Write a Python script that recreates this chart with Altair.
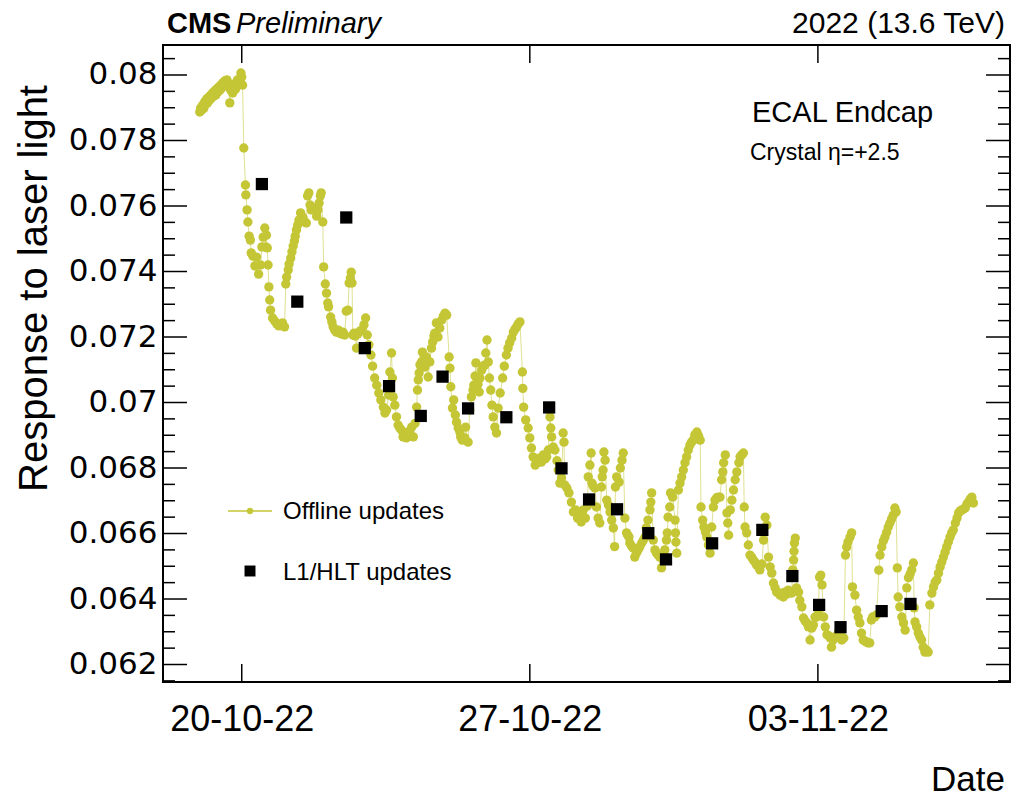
import altair as alt
import pandas as pd

# Laser-light response of one ECAL endcap crystal (eta = +2.5), autumn 2022.
# Times are in days relative to 20 Oct 2022, 00:00.
T0 = pd.Timestamp("2022-10-20 00:00")

offline_day = [
    -1.02, -1.00, -0.97, -0.95, -0.92, -0.90, -0.88, -0.85, -0.83, -0.80, -0.78, -0.75,
    -0.73, -0.71, -0.68, -0.66, -0.63, -0.61, -0.58, -0.56, -0.53, -0.51, -0.49, -0.46,
    -0.44, -0.41, -0.39, -0.36, -0.34, -0.32, -0.29, -0.27, -0.24, -0.22, -0.19, -0.17,
    -0.15, -0.12, -0.10, -0.07, -0.05, -0.02, 0.00, 0.02,
    0.05, 0.09, 0.10, 0.13, 0.15, 0.18, 0.21, 0.23, 0.27, 0.32, 0.36, 0.41, 0.46, 0.49,
    0.52, 0.56, 0.58, 0.60, 0.62, 0.64, 0.66, 0.68, 0.70, 0.75, 0.80, 0.85, 0.90, 0.95,
    0.99, 1.04,
    1.07, 1.09, 1.13, 1.15, 1.19, 1.22, 1.25, 1.28, 1.30, 1.33, 1.36, 1.39, 1.43, 1.46,
    1.49, 1.53, 1.57, 1.60, 1.63, 1.66, 1.69, 1.72, 1.77, 1.82, 1.85, 1.88, 1.91, 1.93,
    1.97,
    1.99, 2.03, 2.06, 2.09, 2.11, 2.16, 2.19, 2.22, 2.26, 2.30, 2.35, 2.38, 2.42, 2.46,
    2.50, 2.54, 2.58, 2.61, 2.64, 2.66, 2.68, 2.70, 2.73, 2.76, 2.79, 2.82, 2.87, 2.92,
    2.97, 3.01,
    3.05, 3.09, 3.14, 3.18, 3.23, 3.28, 3.33, 3.38, 3.44, 3.48, 3.52, 3.57, 3.60, 3.64,
    3.66, 3.68, 3.72, 3.76, 3.80, 3.84, 3.88, 3.92, 3.96, 4.00, 4.04, 4.08, 4.13, 4.17,
    4.21, 4.25, 4.27, 4.29, 4.31, 4.33, 4.37, 4.39, 4.43, 4.45, 4.49, 4.53, 4.57, 4.61,
    4.64, 4.67, 4.69, 4.73, 4.77, 4.81, 4.86, 4.90, 4.94, 4.98,
    5.04, 5.06, 5.08, 5.12, 5.15, 5.19, 5.22, 5.26, 5.30, 5.32, 5.36, 5.42, 5.44, 5.50,
    5.54, 5.58, 5.62, 5.64, 5.67, 5.69, 5.71, 5.74, 5.77, 5.79, 5.83, 5.87, 5.91, 5.93,
    5.96, 5.99, 6.02, 6.05, 6.08, 6.11, 6.15, 6.19, 6.23, 6.28, 6.34, 6.38, 6.43, 6.47,
    6.51, 6.56, 6.60, 6.64, 6.68, 6.72, 6.76,
    6.82, 6.83, 6.85, 6.90, 6.96, 7.00, 7.04, 7.08, 7.13, 7.16, 7.21, 7.25, 7.28, 7.33,
    7.37, 7.41, 7.45, 7.49, 7.51, 7.53, 7.57, 7.61, 7.66, 7.69, 7.73, 7.77, 7.81, 7.83,
    7.85, 7.90, 7.95, 8.01, 8.06, 8.11, 8.16, 8.21, 8.25, 8.30, 8.35, 8.40, 8.42, 8.46,
    8.49, 8.51, 8.54, 8.58, 8.62, 8.66, 8.70, 8.74, 8.76, 8.78, 8.80, 8.83, 8.87, 8.91,
    8.95, 8.99, 9.03, 9.06, 9.08, 9.11, 9.17, 9.20, 9.24, 9.27, 9.31, 9.35, 9.38, 9.41,
    9.43, 9.47, 9.51, 9.55, 9.59, 9.63, 9.67, 9.72, 9.76, 9.80, 9.83, 9.87, 9.92, 9.94,
    9.96, 10.00, 10.04, 10.08, 10.12, 10.16, 10.20, 10.24, 10.28, 10.32, 10.34, 10.36,
    10.40, 10.42, 10.47, 10.53, 10.54, 10.55, 10.57, 10.61, 10.65, 10.69, 10.73, 10.77,
    10.81, 10.85, 10.89, 10.93, 10.97, 11.01, 11.06, 11.10, 11.14, 11.16, 11.20, 11.23,
    11.27, 11.30, 11.34, 11.38, 11.42, 11.46, 11.50, 11.54, 11.58, 11.62, 11.66, 11.69,
    11.71, 11.75, 11.79, 11.81, 11.83, 11.87, 11.91, 11.95, 11.99, 12.03, 12.08, 12.11,
    12.15, 12.19, 12.21, 12.23, 12.27, 12.31, 12.35, 12.39, 12.43, 12.47, 12.51, 12.56,
    12.59, 12.64, 12.68, 12.72, 12.76, 12.80, 12.84, 12.88, 12.92, 12.96, 13.00, 13.05,
    13.08, 13.12, 13.16, 13.20, 13.24, 13.28, 13.32, 13.36, 13.39, 13.41, 13.42, 13.43,
    13.45, 13.48, 13.53, 13.56, 13.61, 13.65, 13.69, 13.73, 13.77, 13.81, 13.85, 13.89,
    13.93, 13.97, 14.01, 14.04, 14.07, 14.10, 14.14, 14.18, 14.22, 14.26, 14.30, 14.33,
    14.37, 14.42, 14.46, 14.50, 14.54, 14.58, 14.63, 14.67, 14.70, 14.73, 14.78, 14.82,
    14.84, 14.90, 14.94, 14.98, 15.02, 15.06, 15.10, 15.14, 15.18, 15.22, 15.26, 15.30,
    15.33, 15.38, 15.43, 15.48, 15.51, 15.55, 15.59, 15.63, 15.67, 15.71, 15.75, 15.79,
    15.83, 15.87, 15.90, 15.93, 15.95, 15.99, 16.04, 16.08, 16.12, 16.16, 16.20, 16.24,
    16.28, 16.32, 16.34, 16.36, 16.40, 16.44, 16.48, 16.52, 16.56, 16.60, 16.64, 16.68,
    16.72, 16.77, 16.81, 16.85, 16.89, 16.93, 16.97, 17.01, 17.05, 17.09, 17.13, 17.17,
    17.21, 17.25, 17.29, 17.34, 17.38, 17.42, 17.46, 17.50, 17.54, 17.58, 17.62, 17.66,
    17.70, 17.74, 17.78,
]

offline_resp = [
    0.07887, 0.07899, 0.07893, 0.07908, 0.07899, 0.07918, 0.07911, 0.07927, 0.07915, 0.07933, 0.07924, 0.07939,
    0.07930, 0.07945, 0.07936, 0.07951, 0.07939, 0.07957, 0.07948, 0.07963, 0.07954, 0.07969, 0.07960, 0.07976,
    0.07966, 0.07982, 0.07969, 0.07985, 0.07976, 0.07966, 0.07915, 0.07954, 0.07960, 0.07945, 0.07966, 0.07973,
    0.07957, 0.07979, 0.07985, 0.07973, 0.07988, 0.08006, 0.07994, 0.07969,
    0.07777, 0.07664, 0.07634, 0.07588, 0.07551, 0.07508, 0.07496, 0.07457, 0.07447, 0.07417, 0.07444, 0.07392, 0.07420, 0.07475,
    0.07505, 0.07533, 0.07475, 0.07511, 0.07472, 0.07420, 0.07353, 0.07313, 0.07282, 0.07258, 0.07249, 0.07240, 0.07234, 0.07237,
    0.07243, 0.07231,
    0.07362, 0.07383, 0.07405, 0.07423, 0.07441, 0.07460, 0.07478, 0.07493, 0.07508, 0.07527, 0.07542, 0.07557, 0.07579, 0.07569,
    0.07563, 0.07551, 0.07548, 0.07631, 0.07640, 0.07603, 0.07588, 0.07594, 0.07588, 0.07569, 0.07588, 0.07609, 0.07631, 0.07640,
    0.07551,
    0.07414, 0.07362, 0.07334, 0.07304, 0.07292, 0.07261, 0.07246, 0.07231, 0.07221, 0.07215, 0.07221, 0.07212, 0.07209, 0.07215,
    0.07206, 0.07279, 0.07282, 0.07365, 0.07380, 0.07398, 0.07365, 0.07206, 0.07212, 0.07203, 0.07166, 0.07209, 0.07218, 0.07221,
    0.07237, 0.07258,
    0.07206, 0.07176, 0.07145, 0.07111, 0.07075, 0.07053, 0.07029, 0.07008, 0.06986, 0.06968, 0.06977, 0.07023, 0.07093, 0.07151,
    0.07075, 0.07017, 0.06992, 0.06956, 0.06931, 0.06922, 0.06916, 0.06895, 0.06907, 0.06892, 0.06910, 0.06907, 0.06925, 0.06895,
    0.06936, 0.06986, 0.07038, 0.07069, 0.07090, 0.07115, 0.07124, 0.07154, 0.07135, 0.07108, 0.07139, 0.07078, 0.07124, 0.07166,
    0.07185, 0.07203, 0.07212, 0.07243, 0.07200, 0.07227, 0.07252, 0.07264, 0.07273, 0.07267,
    0.07139, 0.07105, 0.07048, 0.06983, 0.07008, 0.06962, 0.06940, 0.06922, 0.06910, 0.06895, 0.06885, 0.06892, 0.06925, 0.06879,
    0.06977, 0.07017, 0.07038, 0.07053, 0.07081, 0.07121, 0.07075, 0.07056, 0.07032, 0.07075, 0.07099, 0.07111, 0.07115, 0.07151,
    0.07191, 0.07124, 0.07075, 0.07038, 0.06992, 0.06956, 0.06925, 0.06907, 0.06983, 0.07029, 0.07075, 0.07111, 0.07145, 0.07166,
    0.07182, 0.07197, 0.07215, 0.07224, 0.07231, 0.07240, 0.07246,
    0.07093, 0.07043, 0.06986, 0.06947, 0.06922, 0.06892, 0.06861, 0.06834, 0.06809, 0.06818, 0.06818, 0.06831, 0.06818, 0.06840,
    0.06828, 0.06834, 0.06855, 0.06956, 0.06922, 0.06895, 0.06864, 0.06855, 0.06822, 0.06794, 0.06754, 0.06770, 0.06907, 0.06879,
    0.06748, 0.06739, 0.06724, 0.06696, 0.06666, 0.06672, 0.06647, 0.06656, 0.06635, 0.06672, 0.06647, 0.06684, 0.06773, 0.06809,
    0.06846, 0.06754, 0.06745, 0.06739, 0.06681, 0.06647, 0.06632, 0.06742, 0.06773, 0.06794, 0.06849, 0.06824, 0.06702, 0.06687,
    0.06666, 0.06641, 0.06617, 0.06560, 0.06742, 0.06773, 0.06757, 0.06800, 0.06824, 0.06846, 0.06647, 0.06602, 0.06595, 0.06589,
    0.06571, 0.06562, 0.06556, 0.06528, 0.06540, 0.06550, 0.06559, 0.06571, 0.06580, 0.06589, 0.06617, 0.06641, 0.06672, 0.06696,
    0.06724, 0.06580, 0.06550, 0.06540, 0.06534, 0.06528, 0.06495, 0.06519, 0.06550, 0.06580, 0.06602, 0.06650,
    0.06681, 0.06724, 0.06711, 0.06641, 0.06602, 0.06574, 0.06540, 0.06733, 0.06754, 0.06773, 0.06794, 0.06816,
    0.06834, 0.06855, 0.06870, 0.06879, 0.06885, 0.06901, 0.06910, 0.06898, 0.06885, 0.06681, 0.06641, 0.06620,
    0.06604, 0.06589, 0.06565, 0.06540, 0.06620, 0.06681, 0.06702, 0.06709, 0.06711, 0.06711, 0.06764, 0.06788,
    0.06816, 0.06840, 0.06663, 0.06632, 0.06595, 0.06672, 0.06702, 0.06733, 0.06764, 0.06788, 0.06816, 0.06834,
    0.06840, 0.06846, 0.06681, 0.06620, 0.06602, 0.06565, 0.06534, 0.06528, 0.06519, 0.06513, 0.06504, 0.06498,
    0.06489, 0.06507, 0.06580, 0.06650, 0.06626, 0.06528, 0.06498, 0.06479, 0.06449, 0.06434, 0.06421, 0.06418,
    0.06412, 0.06418, 0.06406, 0.06421, 0.06415, 0.06427, 0.06421, 0.06418, 0.06489, 0.06519, 0.06546, 0.06571,
    0.06586, 0.06434, 0.06421, 0.06396, 0.06376, 0.06342, 0.06333, 0.06327, 0.06315, 0.06275, 0.06311, 0.06321,
    0.06345, 0.06345, 0.06366, 0.06467, 0.06473, 0.06443, 0.06345, 0.06315, 0.06291, 0.06288, 0.06281, 0.06253,
    0.06275, 0.06284, 0.06284, 0.06298, 0.06288, 0.06275, 0.06281, 0.06534, 0.06559, 0.06574, 0.06589, 0.06602,
    0.06437, 0.06412, 0.06366, 0.06345, 0.06327, 0.06296, 0.06275, 0.06272, 0.06269, 0.06266, 0.06266, 0.06336,
    0.06345, 0.06345, 0.06352, 0.06488, 0.06534, 0.06559, 0.06577, 0.06589, 0.06604, 0.06620, 0.06632, 0.06644,
    0.06656, 0.06678, 0.06666, 0.06495, 0.06406, 0.06376, 0.06345, 0.06327, 0.06305, 0.06434, 0.06465, 0.06476,
    0.06489, 0.06510, 0.06373, 0.06330, 0.06315, 0.06296, 0.06284, 0.06275, 0.06253, 0.06238, 0.06244, 0.06238,
    0.06382, 0.06418, 0.06437, 0.06452, 0.06458, 0.06479, 0.06498, 0.06513, 0.06528, 0.06543, 0.06559, 0.06574,
    0.06589, 0.06602, 0.06611, 0.06632, 0.06647, 0.06663, 0.06669, 0.06672, 0.06675, 0.06678, 0.06690, 0.06696,
    0.06705, 0.06711, 0.06693,
]

# Calibration constants pushed to the trigger (L1/HLT)
hlt_day = [0.49, 1.35, 2.54, 2.99, 3.58, 4.35, 4.88, 5.50, 6.43, 7.47, 7.77,
           8.44, 9.12, 9.88, 10.31, 11.43, 12.65, 13.38, 14.03, 14.55, 15.55, 16.25]
hlt_resp = [0.07667, 0.07308, 0.07565, 0.07166, 0.07050, 0.06959, 0.07079, 0.06982,
            0.06955, 0.06985, 0.06799, 0.06704, 0.06674, 0.06601, 0.06521, 0.06570,
            0.06611, 0.06470, 0.06382, 0.06314, 0.06363, 0.06385]

y_major = [0.062, 0.064, 0.066, 0.068, 0.070, 0.072, 0.074, 0.076, 0.078, 0.080]
y_minor = [0.0615, 0.0625, 0.063, 0.0635, 0.0645, 0.065, 0.0655, 0.0665, 0.067, 0.0675,
           0.0685, 0.069, 0.0695, 0.0705, 0.071, 0.0715, 0.0725, 0.073, 0.0735, 0.0745,
           0.075, 0.0755, 0.0765, 0.077, 0.0775, 0.0785, 0.079, 0.0795, 0.0805]
x_tick_dates = ["2022-10-20", "2022-10-27", "2022-11-03"]


def to_time(days):
    return [T0 + pd.Timedelta(days=d) for d in days]


offline = pd.DataFrame({"time": to_time(offline_day), "resp": offline_resp})
hlt = pd.DataFrame({"time": to_time(hlt_day), "resp": hlt_resp})
y_major_df = pd.DataFrame({"resp": y_major})
y_minor_df = pd.DataFrame({"resp": y_minor})
x_tick_df = pd.DataFrame({"time": pd.to_datetime(x_tick_dates)})

W, H = 847, 637
FONT = "Liberation Sans"
OLIVE = "#c4c636"

x_scale = alt.Scale(
    domain=[alt.DateTime(year=2022, month=10, date=18, hours=2, minutes=5),
            alt.DateTime(year=2022, month=11, date=7, hours=16, minutes=2)],
    nice=False,
)
y_scale = alt.Scale(domain=[0.061466, 0.080916], zero=False, nice=False)

x_axis = alt.Axis(
    values=[alt.DateTime(year=2022, month=10, date=20),
            alt.DateTime(year=2022, month=10, date=27),
            alt.DateTime(year=2022, month=11, date=3)],
    format="%d-%m-%y", labelFont=FONT, labelFontSize=36, labelColor="black",
    ticks=False, domain=False, grid=False, labelPadding=20, title=None,
    labelOverlap=False, labelFlush=False,
)
y_axis = alt.Axis(
    values=y_major, format=".3~f", labelFont="DejaVu Sans", labelFontSize=31,
    labelColor="black", ticks=False, domain=False, grid=False, labelPadding=6,
    title=None, labelOverlap=False, labelFlush=False,
)

# every positional layer carries the same axis definition so the merged axes keep their labels
X = alt.X("time:T", scale=x_scale, axis=x_axis)
Y = alt.Y("resp:Q", scale=y_scale, axis=y_axis)

offline_line = alt.Chart(offline).mark_line(
    color=OLIVE, strokeWidth=1, opacity=0.55
).encode(x=X, y=Y, order="time:T")
offline_pts = alt.Chart(offline).mark_circle(
    color=OLIVE, size=88, opacity=1
).encode(x=X, y=Y)
hlt_pts = alt.Chart(hlt).mark_square(
    color="black", size=150, opacity=1
).encode(x=X, y=Y)


# inward-pointing ticks on all four sides of the frame
def y_ticks(df, length):
    left = alt.Chart(df).mark_rule(color="black", strokeWidth=1.5).encode(
        y=Y, x=alt.value(0), x2=alt.value(length))
    right = alt.Chart(df).mark_rule(color="black", strokeWidth=1.5).encode(
        y=Y, x=alt.value(W - length), x2=alt.value(W))
    return [left, right]


x_ticks_bottom = alt.Chart(x_tick_df).mark_rule(color="black", strokeWidth=1.5).encode(
    x=X, y=alt.value(H - 18), y2=alt.value(H))
x_ticks_top = alt.Chart(x_tick_df).mark_rule(color="black", strokeWidth=1.5).encode(
    x=X, y=alt.value(0), y2=alt.value(18))


def label(text, x, y, size, align="left", weight="normal", style="normal",
          font=FONT, angle=None, baseline="alphabetic"):
    kw = dict(font=font, fontSize=size, align=align, baseline=baseline,
              fontWeight=weight, fontStyle=style, color="black")
    if angle is not None:
        kw["angle"] = angle
    return alt.Chart(pd.DataFrame({"label": [text]})).mark_text(**kw).encode(
        x=alt.value(x), y=alt.value(y), text="label:N")


one = pd.DataFrame({"k": [0]})
legend_line = alt.Chart(one).mark_rule(color=OLIVE, strokeWidth=1.5).encode(
    x=alt.value(65), x2=alt.value(109), y=alt.value(466))
legend_dot = alt.Chart(one).mark_circle(color=OLIVE, size=40, opacity=1).encode(
    x=alt.value(87), y=alt.value(466))
legend_sq = alt.Chart(one).mark_square(color="black", size=120, opacity=1).encode(
    x=alt.value(87), y=alt.value(526))

texts = [
    label("CMS", 4, -12, 29, weight="bold"),
    label("Preliminary", 73, -12, 29, style="italic"),
    label("2022 (13.6 TeV)", W - 5, -12, 30, align="right"),
    label("ECAL Endcap", 589, 77, 29),
    label("Crystal η=+2.5", 587, 115, 23),
    label("Response to laser light", -116, 40, 40, align="right", angle=270),
    label("Date", W - 5, 746, 35, align="right"),
    label("Offline updates", 120, 474, 24),
    label("L1/HLT updates", 120, 535, 24),
]

chart = alt.layer(
    offline_line, offline_pts, hlt_pts,
    *y_ticks(y_major_df, 24), *y_ticks(y_minor_df, 12),
    x_ticks_bottom, x_ticks_top,
    legend_line, legend_dot, legend_sq,
    *texts,
).properties(
    width=W, height=H,
    autosize=alt.AutoSizeParams(type="none"),
    padding={"left": 163, "top": 45, "right": 8, "bottom": 118},
    background="white",
).configure_view(
    stroke="black", strokeWidth=2
)

chart.save("out.html", embed_options={"renderer": "svg", "actions": False})
